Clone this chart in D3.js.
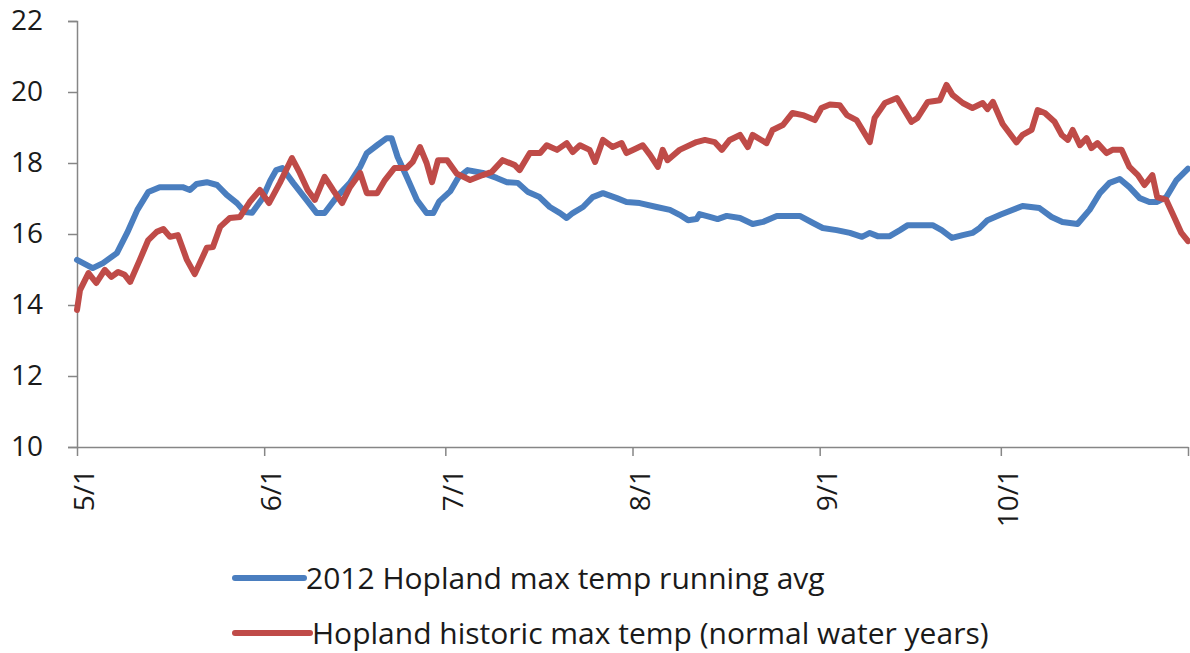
<!DOCTYPE html>
<html><head><meta charset="utf-8">
<script src="https://cdn.jsdelivr.net/npm/d3@7"></script>
<style>html,body{margin:0;padding:0;background:#fff;overflow:hidden}</style>
</head><body>
<svg id="chart" width="1190" height="653"></svg>
<script>
// ---- data (days after May 1, 2012; degrees C) ----
const seriesNames = ["2012 Hopland max temp running avg", "Hopland historic max temp (normal water years)"];
const yTicks = [10, 12, 14, 16, 18, 20, 22];
const xTickDates = ["2012-05-01","2012-06-01","2012-07-01","2012-08-01","2012-09-01","2012-10-01","2012-11-01"];
const xTickLabels = ["5/1","6/1","7/1","8/1","9/1","10/1",""];

const blueDays = [0,2.6,4.3,6.6,8.3,10,11.8,13.7,17.5,18.7,19.8,21.5,23.2,24.8,26.5,27.8,29,30.7,32,33,34,35.8,38,39.7,41,43,45.2,46.9,48,49.7,51.3,52.1,53.1,54.6,56.3,57.9,59,60,61.8,63.1,64.7,67.2,69.5,71.2,73,74.7,76.6,78.3,80,81.1,82.1,83.8,85.4,87.1,89.4,91,93.2,96,98.2,99.8,101.2,102.6,103.1,104.8,106.1,107.6,109.8,111.9,113.6,115.9,119.7,121.9,123.5,125.8,128,130,131.3,132.6,134.6,136.3,137.6,141.7,143.2,144.9,146.7,148.3,149.5,150.8,153,156.6,159.4,161.4,163.2,165.7,167.7,169.4,171,172.7,174.3,176,177.6,178.8,180.4,182.1,184];
const blueTemps = [15.27,15.04,15.18,15.46,16.03,16.68,17.18,17.32,17.32,17.24,17.41,17.46,17.38,17.1,16.87,16.62,16.6,17.0,17.5,17.8,17.86,17.44,16.96,16.59,16.59,17.04,17.44,17.89,18.28,18.5,18.7,18.7,18.17,17.61,16.96,16.59,16.59,16.92,17.2,17.58,17.8,17.72,17.58,17.46,17.44,17.18,17.04,16.76,16.59,16.45,16.59,16.76,17.04,17.15,17.01,16.9,16.87,16.76,16.68,16.54,16.39,16.42,16.56,16.48,16.42,16.51,16.45,16.28,16.34,16.51,16.51,16.31,16.17,16.11,16.03,15.92,16.03,15.94,15.94,16.11,16.25,16.25,16.11,15.89,15.97,16.03,16.17,16.39,16.55,16.79,16.73,16.48,16.34,16.28,16.68,17.15,17.44,17.55,17.32,17.01,16.9,16.9,17.04,17.52,17.84];

const redDays = [0,0.5,1.9,3.2,4.6,5.7,6.8,7.9,8.8,10.4,11.8,13.2,14.3,15.4,16.7,18.2,19.5,21.5,22.5,23.7,25.3,27,28.6,30.3,31.8,33.6,35.6,36.9,38.2,39.4,41,42.4,43.9,45.2,46.9,48,49.7,51,52.6,54.6,55.6,56.8,57.9,58.8,59.8,61.3,62.9,65.1,67.2,68.7,70.5,72.5,73.3,75,76.7,77.8,79.5,81.1,82.1,83.3,84.9,85.8,87.1,88.7,90.2,91,92.5,93.7,94.9,96.2,97,97.8,99.8,102.6,104,105.6,106.8,108.1,109.8,111.1,111.9,114.2,115.2,116.9,118.5,120.2,122.2,123.3,124.7,126.3,127.5,129.1,130.1,131.3,132.1,133.8,135.8,136.8,138.2,139.2,140.9,142.9,144,145,146.7,148.3,150,150.8,151.7,153.3,155.6,156.6,158.1,159.1,160.3,161.9,163.1,164.1,164.9,166.1,167.2,168,169,170.5,171.5,173,174.3,175.7,176.8,178.1,178.9,180.4,181.7,182.9,184];
const redTemps = [13.86,14.42,14.9,14.62,14.99,14.79,14.93,14.85,14.65,15.27,15.83,16.06,16.14,15.92,15.97,15.27,14.87,15.61,15.63,16.2,16.45,16.48,16.9,17.24,16.87,17.44,18.14,17.72,17.24,16.96,17.61,17.24,16.87,17.32,17.72,17.15,17.15,17.52,17.86,17.86,18.03,18.45,18.0,17.46,18.08,18.08,17.7,17.52,17.66,17.75,18.08,17.94,17.8,18.28,18.28,18.5,18.37,18.56,18.31,18.5,18.37,18.03,18.65,18.45,18.56,18.28,18.4,18.5,18.23,17.89,18.37,18.08,18.37,18.59,18.65,18.59,18.37,18.65,18.79,18.45,18.79,18.56,18.93,19.07,19.41,19.35,19.21,19.55,19.65,19.63,19.35,19.21,18.93,18.59,19.27,19.69,19.83,19.55,19.16,19.27,19.72,19.77,20.2,19.92,19.69,19.55,19.69,19.52,19.72,19.1,18.58,18.79,18.93,19.49,19.41,19.16,18.79,18.65,18.93,18.5,18.7,18.42,18.56,18.28,18.37,18.37,17.89,17.66,17.38,17.66,17.04,16.96,16.48,16.03,15.8];

// ---- layout ----
const svg = d3.select("#chart");
const font = "'Open Sans', 'Noto Sans', sans-serif";
const axisColor = "#868686";
const colors = ["#4a7ebf", "#bf4b48"];
const start = new Date(2012, 4, 1);
const toDate = d => new Date(start.getTime() + d * 86400000);
const parse = d3.timeParse("%Y-%m-%d");

const x = d3.scaleTime().domain([parse("2012-05-01"), parse("2012-11-01")]).range([77, 1188]);
const y = d3.scaleLinear().domain([10, 22]).range([447, 21]);

// y axis
const yAxis = d3.axisLeft(y).tickValues(yTicks).tickSize(9).tickPadding(25).tickFormat(d3.format("d"));
const gy = svg.append("g").attr("transform", "translate(77,0)").call(yAxis);
gy.select(".domain").attr("stroke", axisColor).attr("stroke-width", 1.5);
gy.selectAll(".tick line").attr("stroke", axisColor).attr("stroke-width", 1.5);
gy.selectAll(".tick text").attr("font-family", font).attr("font-size", 28).attr("fill", "#1a1a1a");

// x axis
const xDates = xTickDates.map(parse);
const xAxis = d3.axisBottom(x).tickValues(xDates).tickSize(9).tickSizeOuter(0)
  .tickFormat((d, i) => xTickLabels[i]);
const gx = svg.append("g").attr("transform", "translate(0,447)").call(xAxis);
gx.select(".domain").attr("stroke", axisColor).attr("stroke-width", 1.5);
gx.selectAll(".tick line").attr("stroke", axisColor).attr("stroke-width", 1.5);
gx.selectAll(".tick text")
  .attr("font-family", font).attr("font-size", 28).attr("fill", "#1a1a1a")
  .attr("text-anchor", "end")
  .attr("transform", "translate(7,22) rotate(-90)")
  .attr("x", 0).attr("y", 0).attr("dy", "0.35em");

// lines
const line = d3.line().x(d => x(toDate(d[0]))).y(d => y(d[1])).curve(d3.curveLinear);
const series = [
  blueDays.map((d, i) => [d, blueTemps[i]]),
  redDays.map((d, i) => [d, redTemps[i]])
];
series.forEach((s, i) => {
  svg.append("path").datum(s).attr("d", line)
    .attr("fill", "none").attr("stroke", colors[i]).attr("stroke-width", 6)
    .attr("stroke-linejoin", "round").attr("stroke-linecap", "round");
});

// legend
const legendY = [578, 633];
const legendX2 = [304, 310];
seriesNames.forEach((name, i) => {
  svg.append("line").attr("x1", 235).attr("x2", legendX2[i]).attr("y1", legendY[i]).attr("y2", legendY[i])
    .attr("stroke", colors[i]).attr("stroke-width", 6).attr("stroke-linecap", "round");
  svg.append("text").attr("x", legendX2[i] + 2).attr("y", legendY[i]).attr("dy", "0.35em")
    .attr("font-family", font).attr("font-size", 30).attr("fill", "#1a1a1a").text(name);
});
</script>
</body></html>
